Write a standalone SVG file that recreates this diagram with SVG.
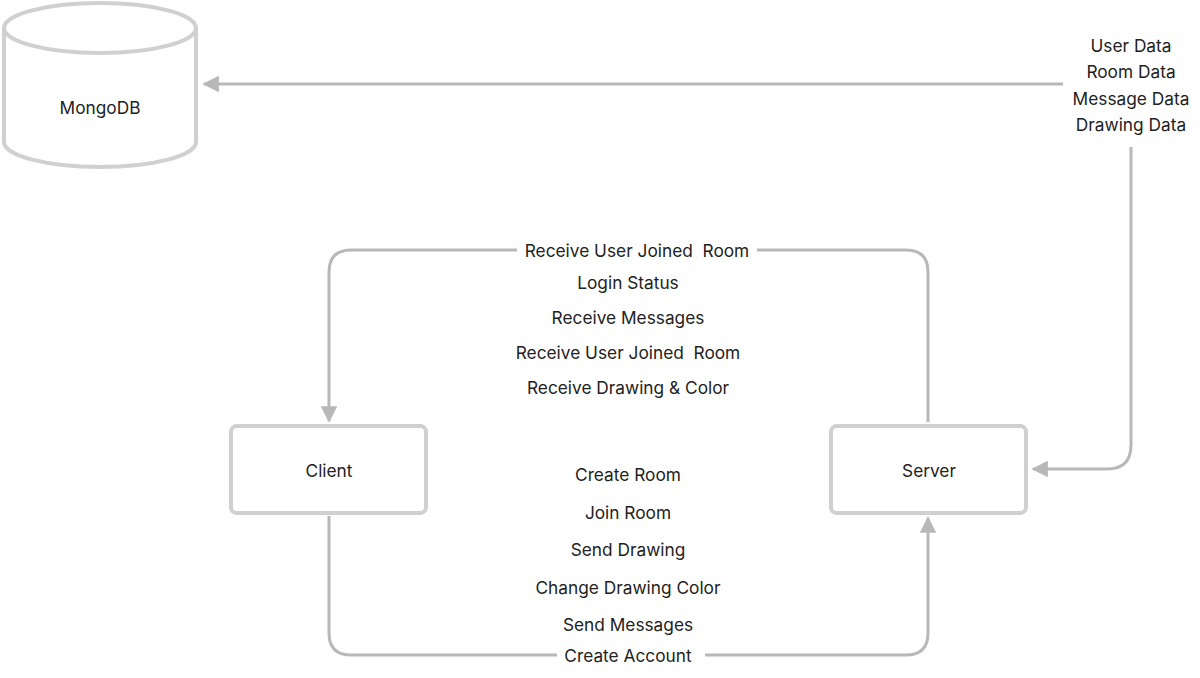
<svg xmlns="http://www.w3.org/2000/svg" width="1200" height="678" viewBox="0 0 1200 678">
<style>
.t{font-family:Inter,"Noto Sans",sans-serif;font-size:17.3px;fill:#222;text-anchor:middle;dominant-baseline:central;white-space:pre}
.n{fill:#fff;stroke:#d0d0d0;stroke-width:4}
.c{fill:none;stroke:#b8b8b8;stroke-width:3}
.bg{fill:#fff}
</style>
<defs>
<marker id="ah" viewBox="0 0 10 10" refX="9" refY="5" markerWidth="5.5" markerHeight="5.5" markerUnits="strokeWidth" orient="auto">
<path d="M0,0 L10,5 L0,10 z" fill="#b8b8b8"/>
</marker>
</defs>
<rect width="1200" height="678" fill="#fff"/>
<g id="connectors">
<path class="c" d="M1063,84 L204,84" marker-end="url(#ah)"/>
<path class="c" d="M1131,147 L1131,445 Q1131,469 1107,469 L1033,469" marker-end="url(#ah)"/>
<path class="c" d="M928,422 L928,272 Q928,250 906,250 L351,250 Q329,250 329,272 L329,421" marker-end="url(#ah)"/>
<path class="c" d="M329,516 L329,633 Q329,655 351,655 L906,655 Q928,655 928,633 L928,518" marker-end="url(#ah)"/>
<rect class="bg" x="517" y="238" width="240" height="24"/>
<rect class="bg" x="557" y="643" width="148" height="24"/>
<text class="t" x="637" y="250" xml:space="preserve">Receive User Joined  Room</text>
<text class="t" x="628" y="282">Login Status</text>
<text class="t" x="628" y="317">Receive Messages</text>
<text class="t" x="628" y="352" xml:space="preserve">Receive User Joined  Room</text>
<text class="t" x="628" y="387">Receive Drawing &amp; Color</text>
<text class="t" x="628" y="474">Create Room</text>
<text class="t" x="628" y="512">Join Room</text>
<text class="t" x="628" y="549">Send Drawing</text>
<text class="t" x="628" y="587">Change Drawing Color</text>
<text class="t" x="628" y="624">Send Messages</text>
<text class="t" x="628" y="655">Create Account</text>
<text class="t" x="1131" y="45">User Data</text>
<text class="t" x="1131" y="71">Room Data</text>
<text class="t" x="1131" y="98">Message Data</text>
<text class="t" x="1131" y="124">Drawing Data</text>
</g>
<g id="mongodb">
<path class="n" d="M4,28 L4,142 A96,25 0 0 0 196,142 L196,28"/>
<ellipse class="n" cx="100" cy="28" rx="96" ry="25"/>
<text class="t" x="100" y="107">MongoDB</text>
</g>
<g id="client">
<rect class="n" x="231" y="426" width="195" height="87" rx="6"/>
<text class="t" x="329" y="470">Client</text>
</g>
<g id="server">
<rect class="n" x="831" y="426" width="195" height="87" rx="6"/>
<text class="t" x="929" y="470">Server</text>
</g>
</svg>
